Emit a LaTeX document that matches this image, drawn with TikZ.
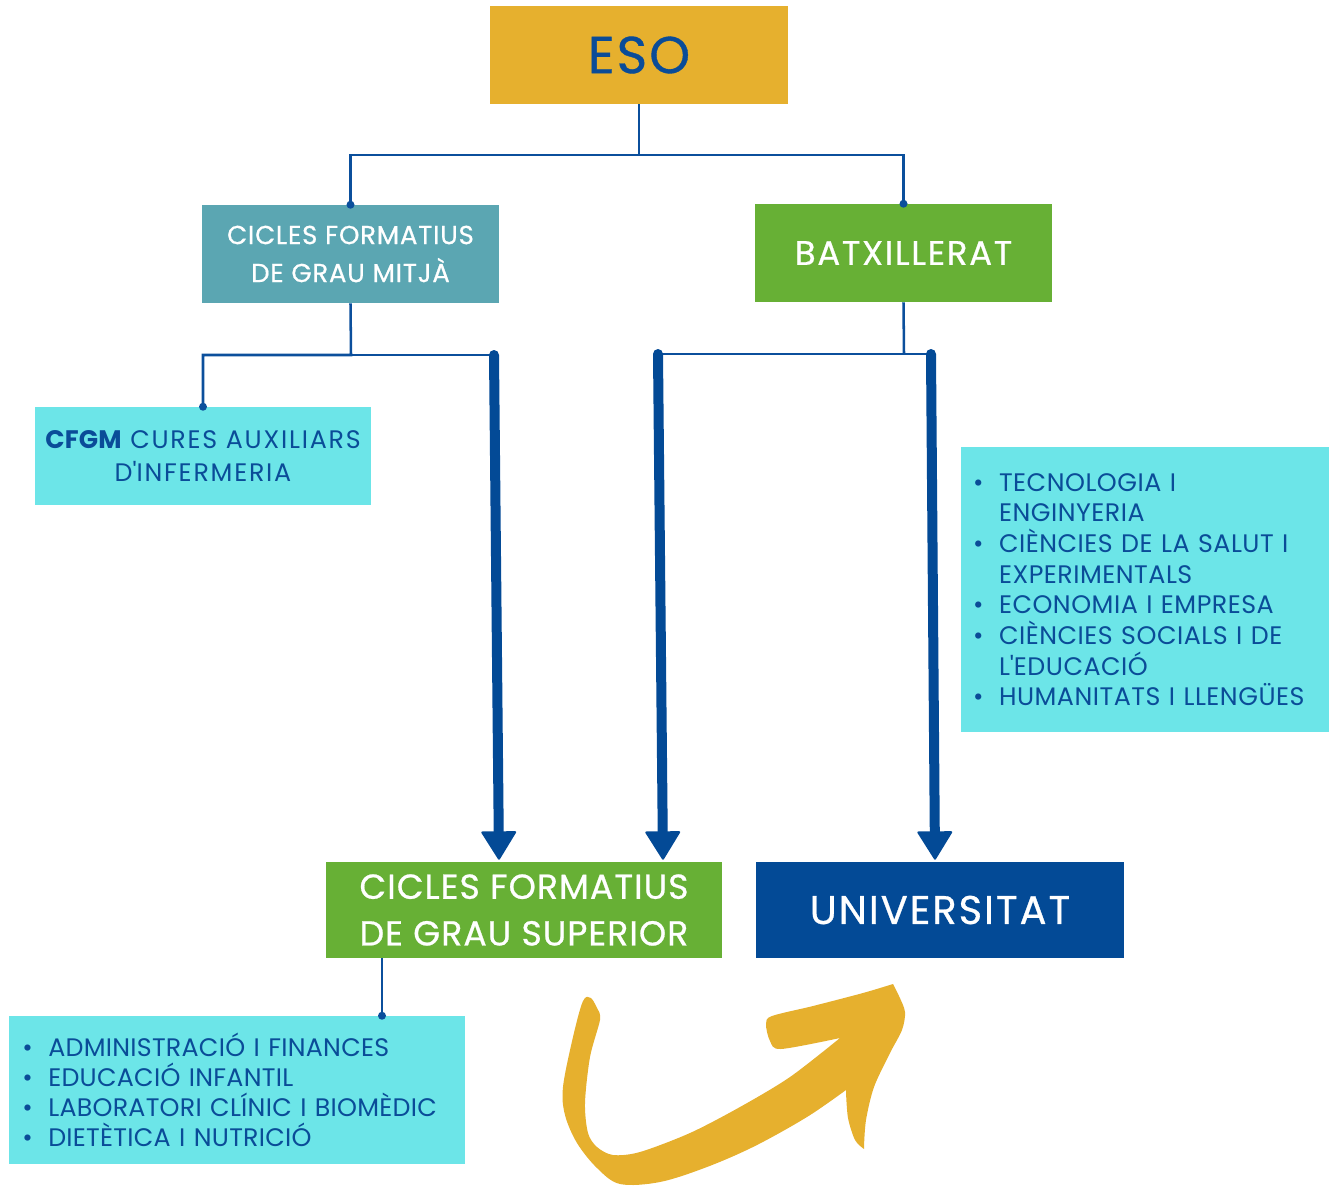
\documentclass[tikz,border=0pt]{standalone}
\usepackage{fontspec}
\setmainfont{Poppins}
\newfontfamily\titlefont{Poppins}[FakeBold=0.7]
\usetikzlibrary{arrows.meta,positioning}

\definecolor{esogold}{HTML}{E6B02E}
\definecolor{mitjateal}{HTML}{5BA6B2}
\definecolor{batxgreen}{HTML}{67B035}
\definecolor{listcyan}{HTML}{6CE5E8}
\definecolor{unidark}{HTML}{034A96}
\definecolor{lineblue}{HTML}{0B4F9C}
\definecolor{textblue}{HTML}{0A4C98}

\newcommand\li{\makebox[19.5pt][l]{\textbullet}}
\newcommand\lc{\hspace*{19.5pt}}

\begin{document}
\begin{tikzpicture}[x=0.75pt,y=-0.75pt,
	box/.style={rectangle,inner sep=0pt,align=center,text=white},
	listbox/.style={rectangle,fill=listcyan,inner ysep=0pt,inner xsep=8pt,align=left,text=textblue},
	conn/.style={draw=lineblue,line width=1.9pt},
	dot/.style={circle,fill=lineblue,inner sep=0pt,minimum size=6pt},
	bigarrow/.style={color=unidark,line width=7.5pt,line cap=round,
		-{Triangle[width=27pt,length=22pt,line width=1.5pt,round]}}]
	\useasboundingbox (0,0) rectangle (1336,1186);

	\node[box,fill=esogold,text=textblue,minimum width=223.5pt,minimum height=73.5pt,
		font=\titlefont\addfontfeatures{LetterSpace=4}\fontsize{39}{40}\selectfont] (eso) at (639,55) {ESO};
	\node[box,fill=mitjateal,minimum width=222.75pt,minimum height=73.5pt,
		font=\titlefont\addfontfeatures{LetterSpace=3}\fontsize{19.5}{28.5}\selectfont] (cfgm) at (350.5,254) {CICLES FORMATIUS\\DE GRAU MITJÀ};
	\node[box,fill=batxgreen,minimum width=222.75pt,minimum height=73.5pt,
		font=\titlefont\addfontfeatures{LetterSpace=5}\fontsize{25.5}{30}\selectfont] (batx) at (903.5,253) {BATXILLERAT};
	\node[box,fill=listcyan,text=textblue,minimum width=252pt,minimum height=73.5pt,
		font=\addfontfeatures{LetterSpace=7}\fontsize{19}{25}\selectfont] (cures) at (203,456)
		{{\bfseries\addfontfeatures{LetterSpace=1}CFGM} CURES AUXILIARS\\D\textquotesingle INFERMERIA};
	\node[listbox,minimum width=276pt,minimum height=213.75pt,text width=258pt,
		font=\addfontfeatures{LetterSpace=2}\fontsize{19}{23}\selectfont] (batxlist) at (1145,589.5)
		{\li TECNOLOGIA I\\ \lc ENGINYERIA\\ \li CIÈNCIES DE LA SALUT I\\ \lc EXPERIMENTALS\\
		 \li ECONOMIA I EMPRESA\\ \li CIÈNCIES SOCIALS I DE\\ \lc L\textquotesingle EDUCACIÓ\\ \li HUMANITATS I LLENGÜES};
	\node[box,fill=batxgreen,minimum width=297pt,minimum height=72pt,
		font=\titlefont\addfontfeatures{LetterSpace=3}\fontsize{26}{35}\selectfont] (cfgs) at (524,910) {CICLES FORMATIUS\\DE GRAU SUPERIOR};
	\node[box,fill=unidark,minimum width=276pt,minimum height=72pt,
		font=\titlefont\addfontfeatures{LetterSpace=5}\fontsize{30}{32}\selectfont] (univ) at (940,910) {UNIVERSITAT};
	\node[listbox,minimum width=342pt,minimum height=111pt,text width=322pt,
		font=\addfontfeatures{LetterSpace=1}\fontsize{19}{22.5}\selectfont] (cfgslist) at (237,1090)
		{\li ADMINISTRACIÓ I FINANCES\\ \li EDUCACIÓ INFANTIL\\ \li LABORATORI CLÍNIC I BIOMÈDIC\\ \li DIETÈTICA I NUTRICIÓ};

	% branch points
	\coordinate (esosplit) at (639,155);
	\coordinate (cfgmsplit) at (351,355);
	\coordinate (mitjaout) at (494,355);
	\coordinate (batxsplit) at (904,354);
	\coordinate (batxleft) at (658,354);
	\coordinate (batxright) at (931,354);

	\draw[conn] (eso.south) -- (esosplit) -| (cfgm.north) node[dot] {};
	\draw[conn] (esosplit) -| (batx.north) node[dot] {};
	\draw[conn] (cfgm.south) -- (cfgmsplit) -| (cures.north) node[dot] {};
	\draw[conn] (cfgmsplit) -- (mitjaout);
	\draw[conn] (batx.south) -- (batxsplit);
	\draw[conn] (batxleft) -- (batxright);
	\draw[conn] (cfgs.south -| 382,0) -- (cfgslist.north -| 382,0) node[dot] {};

	\draw[bigarrow] (mitjaout) -- ([xshift=3.75pt,yshift=1.5pt]mitjaout |- cfgs.north);
	\draw[bigarrow] (batxleft) -- ([xshift=3.75pt,yshift=1.5pt]batxleft |- cfgs.north);
	\draw[bigarrow] (batxright) -- ([xshift=3pt,yshift=1.5pt]batxright |- univ.north);

	% brush arrow
	\fill[esogold] plot[smooth,tension=0.55] coordinates {(598,1010) (591,998) (583,1001) (573,1037) (563,1087) (565,1115) (577,1143) (597,1168) (620,1184) (660,1182) (707,1167) (755,1146) (807,1117) (846,1090)}
		-- plot[smooth] coordinates {(846,1092) (848,1118) (855,1140) (864,1149)}
		-- plot[smooth] coordinates {(864,1147) (866,1120) (874,1087) (890,1053) (902,1030) (905,1012) (899,996) (893,984)}
		-- plot[smooth] coordinates {(893,984) (863,993) (813,1006) (772,1016) (766,1024) (770,1041) (781,1049) (840,1038)}
		-- plot[smooth] coordinates {(840,1038) (790,1077) (740,1107) (690,1133) (640,1152) (613,1155) (597,1147) (588,1133) (585,1103) (590,1057) (600,1020) (598,1010)} -- cycle;
\end{tikzpicture}
\end{document}
